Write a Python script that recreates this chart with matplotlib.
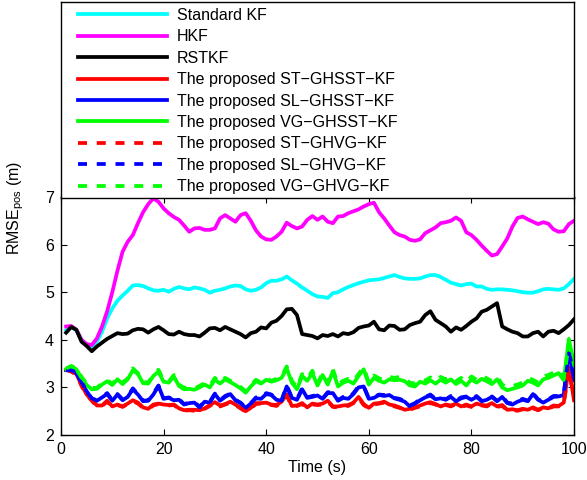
import numpy as np
import matplotlib
matplotlib.use('Agg')
from matplotlib import pyplot as plt

plt.rcParams['font.family'] = ['Liberation Sans', 'DejaVu Sans']
plt.rcParams['mathtext.default'] = 'regular'

# time steps (s)
t = np.arange(1, 101)

# RMSE of position (m)
kf = [4.2, 4.27, 4.2, 4.0, 3.9, 3.83, 3.96, 4.17, 4.45, 4.66,
      4.82, 4.93, 5.03, 5.14, 5.15, 5.13, 5.08, 5.04, 5.03, 5.05,
      5.01, 5.07, 5.11, 5.08, 5.06, 5.1, 5.08, 5.05, 4.99, 5.03,
      5.05, 5.08, 5.12, 5.14, 5.13, 5.06, 5.03, 5.05, 5.1, 5.19,
      5.24, 5.24, 5.27, 5.33, 5.25, 5.18, 5.1, 5.03, 4.96, 4.91,
      4.9, 4.88, 4.98, 5.0, 5.06, 5.11, 5.15, 5.19, 5.22, 5.25,
      5.26, 5.27, 5.3, 5.33, 5.36, 5.32, 5.29, 5.28, 5.28, 5.29,
      5.33, 5.36, 5.36, 5.32, 5.26, 5.2, 5.17, 5.14, 5.17, 5.18,
      5.12, 5.12, 5.07, 5.05, 5.06, 5.06, 5.05, 5.04, 5.02, 5.0,
      4.99, 4.99, 5.02, 5.06, 5.07, 5.06, 5.05, 5.08, 5.17, 5.28]

hkf = [4.28, 4.29, 4.21, 4.0, 3.91, 3.89, 4.03, 4.28, 4.6, 5.0,
       5.45, 5.85, 6.06, 6.2, 6.45, 6.68, 6.85, 6.97, 6.9, 6.76,
       6.66, 6.58, 6.52, 6.4, 6.27, 6.34, 6.35, 6.31, 6.31, 6.34,
       6.55, 6.62, 6.55, 6.48, 6.62, 6.66, 6.5, 6.3, 6.17, 6.11,
       6.1, 6.17, 6.27, 6.46, 6.39, 6.34, 6.38, 6.52, 6.6, 6.52,
       6.59, 6.48, 6.45, 6.59, 6.6, 6.66, 6.7, 6.74, 6.8, 6.85,
       6.88, 6.68, 6.55, 6.4, 6.26, 6.2, 6.17, 6.1, 6.08, 6.11,
       6.24, 6.3, 6.36, 6.45, 6.47, 6.5, 6.57, 6.5, 6.26, 6.2,
       6.1, 5.98, 5.87, 5.77, 5.8, 5.96, 6.13, 6.38, 6.56, 6.59,
       6.53, 6.48, 6.43, 6.47, 6.44, 6.32, 6.27, 6.28, 6.43, 6.5]

rstkf = [4.15, 4.27, 4.21, 3.96, 3.87, 3.76, 3.86, 3.94, 4.02, 4.08,
         4.14, 4.12, 4.13, 4.2, 4.23, 4.22, 4.15, 4.22, 4.27, 4.2,
         4.12, 4.11, 4.17, 4.12, 4.1, 4.1, 4.07, 4.15, 4.24, 4.25,
         4.2, 4.27, 4.22, 4.17, 4.12, 4.05, 4.14, 4.17, 4.26, 4.24,
         4.36, 4.4, 4.5, 4.64, 4.65, 4.52, 4.12, 4.1, 4.08, 4.03,
         4.1, 4.08, 4.12, 4.07, 4.14, 4.12, 4.16, 4.25, 4.28, 4.3,
         4.38, 4.22, 4.2, 4.3, 4.29, 4.21, 4.22, 4.31, 4.35, 4.38,
         4.52, 4.6, 4.42, 4.35, 4.28, 4.17, 4.26, 4.21, 4.29, 4.38,
         4.45, 4.59, 4.63, 4.7, 4.77, 4.28, 4.22, 4.17, 4.14, 4.07,
         4.07, 4.14, 4.17, 4.07, 4.17, 4.19, 4.14, 4.22, 4.31, 4.43]

st_ghsst = [3.37, 3.34, 3.28, 3.05, 2.85, 2.74, 2.62, 2.62, 2.72, 2.6,
            2.64, 2.6, 2.66, 2.73, 2.68, 2.58, 2.55, 2.64, 2.66, 2.64,
            2.63, 2.64, 2.56, 2.52, 2.53, 2.53, 2.52, 2.56, 2.63, 2.69,
            2.62, 2.65, 2.7, 2.64, 2.57, 2.5, 2.57, 2.67, 2.67, 2.68,
            2.64, 2.63, 2.7, 2.85, 2.61, 2.62, 2.67, 2.58, 2.66, 2.64,
            2.66, 2.72, 2.6, 2.6, 2.62, 2.63, 2.68, 2.8, 2.65, 2.57,
            2.66, 2.67, 2.7, 2.64, 2.62, 2.58, 2.53, 2.55, 2.58, 2.62,
            2.66, 2.69, 2.65, 2.6, 2.64, 2.62, 2.66, 2.6, 2.64, 2.6,
            2.66, 2.63, 2.62, 2.67, 2.6, 2.63, 2.53, 2.54, 2.52, 2.55,
            2.53, 2.58, 2.53, 2.58, 2.56, 2.62, 2.61, 2.68, 3.42, 2.73]

sl_ghsst = [3.36, 3.35, 3.3, 3.1, 2.92, 2.76, 2.72, 2.79, 2.86, 2.72,
            2.85, 2.73, 2.8, 2.96, 2.85, 2.71, 2.72, 2.85, 3.03, 2.76,
            2.78, 2.73, 2.74, 2.64, 2.67, 2.68, 2.58, 2.7, 2.68, 2.86,
            2.72, 2.8, 2.86, 2.73, 2.67, 2.57, 2.66, 2.77, 2.76, 2.86,
            2.84, 2.74, 2.72, 3.02, 2.78, 2.74, 2.96, 2.78, 2.8, 2.83,
            2.76, 2.88, 2.88, 2.72, 2.78, 2.76, 2.86, 3.0, 3.02, 2.76,
            2.78, 2.84, 2.82, 2.84, 2.77, 2.74, 2.7, 2.6, 2.66, 2.73,
            2.79, 2.83, 2.75, 2.77, 2.74, 2.8, 2.71, 2.77, 2.8, 2.74,
            2.8, 2.71, 2.74, 2.8, 2.71, 2.8, 2.67, 2.64, 2.7, 2.74,
            2.71, 2.86, 2.74, 2.68, 2.74, 2.8, 2.81, 2.84, 3.78, 3.15]

vg_ghsst = [3.38, 3.44, 3.38, 3.2, 3.05, 2.96, 2.97, 3.06, 3.13, 3.05,
            3.17, 3.07, 3.17, 3.36, 3.28, 3.09, 3.08, 3.24, 3.33, 3.12,
            3.1, 3.23, 3.03, 2.96, 2.97, 2.95, 3.0, 3.06, 3.0, 3.16,
            3.08, 3.17, 3.11, 3.05, 2.98, 2.89, 3.02, 3.13, 3.08, 3.16,
            3.12, 3.15, 3.2, 3.4, 3.1, 2.96, 3.24, 3.14, 3.3, 3.04,
            3.26, 3.06, 3.34, 3.02, 3.1, 3.14, 3.08, 3.24, 3.38, 3.06,
            3.2, 3.14, 3.1, 3.17, 3.15, 3.16, 3.13, 3.04, 3.02, 3.12,
            3.08, 3.15, 3.08, 3.16, 3.1, 3.17, 3.07, 3.14, 3.04, 3.17,
            3.1, 3.18, 3.13, 3.07, 3.17, 3.0, 2.94, 2.97, 3.0, 3.04,
            3.14, 3.1, 3.04, 3.17, 3.2, 3.25, 3.3, 3.15, 4.02, 3.48]

st_ghvg = [3.38, 3.33, 3.27, 3.03, 2.84, 2.72, 2.6, 2.61, 2.7, 2.59,
           2.63, 2.59, 2.65, 2.71, 2.66, 2.57, 2.54, 2.62, 2.65, 2.62,
           2.62, 2.63, 2.55, 2.51, 2.52, 2.51, 2.51, 2.55, 2.61, 2.68,
           2.6, 2.64, 2.68, 2.63, 2.56, 2.49, 2.56, 2.65, 2.66, 2.66,
           2.63, 2.61, 2.69, 2.83, 2.6, 2.61, 2.65, 2.57, 2.64, 2.63,
           2.64, 2.7, 2.59, 2.58, 2.61, 2.61, 2.67, 2.78, 2.63, 2.56,
           2.64, 2.66, 2.68, 2.63, 2.6, 2.57, 2.52, 2.53, 2.57, 2.6,
           2.65, 2.67, 2.64, 2.58, 2.63, 2.6, 2.65, 2.59, 2.62, 2.59,
           2.64, 2.62, 2.6, 2.66, 2.59, 2.61, 2.52, 2.52, 2.51, 2.54,
           2.52, 2.56, 2.52, 2.57, 2.55, 2.6, 2.6, 2.66, 3.36, 2.78]

sl_ghvg = [3.37, 3.36, 3.31, 3.11, 2.93, 2.77, 2.73, 2.8, 2.88, 2.73,
           2.86, 2.75, 2.81, 2.98, 2.86, 2.72, 2.73, 2.87, 3.04, 2.77,
           2.79, 2.75, 2.75, 2.65, 2.68, 2.7, 2.59, 2.71, 2.7, 2.87,
           2.73, 2.82, 2.87, 2.74, 2.68, 2.58, 2.67, 2.79, 2.77, 2.88,
           2.85, 2.75, 2.73, 3.04, 2.79, 2.75, 2.98, 2.79, 2.82, 2.84,
           2.77, 2.9, 2.89, 2.73, 2.8, 2.77, 2.88, 3.02, 3.03, 2.77,
           2.8, 2.85, 2.84, 2.85, 2.78, 2.76, 2.71, 2.62, 2.67, 2.75,
           2.8, 2.85, 2.76, 2.79, 2.75, 2.82, 2.72, 2.79, 2.81, 2.75,
           2.82, 2.72, 2.76, 2.81, 2.72, 2.82, 2.68, 2.66, 2.71, 2.76,
           2.72, 2.88, 2.75, 2.7, 2.75, 2.82, 2.82, 2.86, 3.72, 3.3]

vg_ghvg = [3.4, 3.45, 3.4, 3.22, 3.08, 2.99, 2.99, 3.09, 3.16, 3.07,
           3.2, 3.1, 3.19, 3.4, 3.3, 3.12, 3.1, 3.27, 3.37, 3.15,
           3.12, 3.26, 3.06, 2.99, 3.0, 2.98, 3.03, 3.09, 3.03, 3.2,
           3.1, 3.2, 3.14, 3.08, 3.01, 2.92, 3.05, 3.16, 3.1, 3.19,
           3.14, 3.18, 3.23, 3.44, 3.14, 3.0, 3.28, 3.18, 3.35, 3.08,
           3.3, 3.1, 3.38, 3.06, 3.14, 3.18, 3.13, 3.28, 3.42, 3.1,
           3.25, 3.19, 3.15, 3.22, 3.2, 3.22, 3.19, 3.1, 3.08, 3.18,
           3.14, 3.21, 3.14, 3.22, 3.17, 3.23, 3.13, 3.2, 3.11, 3.23,
           3.16, 3.24, 3.19, 3.13, 3.23, 3.06, 3.0, 3.03, 3.06, 3.1,
           3.2, 3.16, 3.1, 3.23, 3.26, 3.31, 3.36, 3.2, 3.9, 3.55]

labels = ['Standard KF', 'HKF', 'RSTKF',
          'The proposed ST\u2212GHSST\u2212KF',
          'The proposed SL\u2212GHSST\u2212KF',
          'The proposed VG\u2212GHSST\u2212KF',
          'The proposed ST\u2212GHVG\u2212KF',
          'The proposed SL\u2212GHVG\u2212KF',
          'The proposed VG\u2212GHVG\u2212KF']

series = [kf, hkf, rstkf, st_ghsst, sl_ghsst, vg_ghsst, st_ghvg, sl_ghvg, vg_ghvg]
colors = ['#00ffff', '#ff00ff', 'k', '#ff0000', '#0000ff', '#00ff00',
          '#ff0000', '#0000ff', '#00ff00']
dash = (0, (2.4, 2.6))
styles = ['-'] * 6 + [dash] * 3

fs = 11.5

fig = plt.figure(figsize=(5.87, 4.8), dpi=100)
ax = fig.add_axes([61/587, 1 - 435/480, 513/587, 238/480])

handles = []
for y, c, ls, lab in zip(series, colors, styles, labels):
    h, = ax.plot(t, y, color=c, linestyle=ls, linewidth=2.7, label=lab)
    handles.append(h)

ax.set_xlim(0, 100)
ax.set_ylim(2, 7)
ax.set_xticks([0, 20, 40, 60, 80, 100])
ax.set_yticks([2, 3, 4, 5, 6, 7])
ax.tick_params(direction='in', top=True, right=True, length=4, width=0.8,
               labelsize=fs, pad=5)
for s in ax.spines.values():
    s.set_linewidth(1.0)
ax.set_xlabel('Time (s)', fontsize=fs, labelpad=2)
fig.text(16/587, 1 - 208/480, 'RMSE$_{pos}$ (m)', rotation=90,
         ha='center', va='center', fontsize=fs)

# legend box above the plot
lax = fig.add_axes([61/587, 1 - 198/480, 513/587, 196/480])
lax.set_xticks([])
lax.set_yticks([])
for s in lax.spines.values():
    s.set_linewidth(1.0)
lax.legend(handles, labels, loc='upper left', bbox_to_anchor=(17/513, 1 - 6/196),
           frameon=False, fontsize=fs, handlelength=5.57, handletextpad=0.63,
           labelspacing=0.40, borderaxespad=0, borderpad=0)

fig.savefig('out.png', dpi=100)
